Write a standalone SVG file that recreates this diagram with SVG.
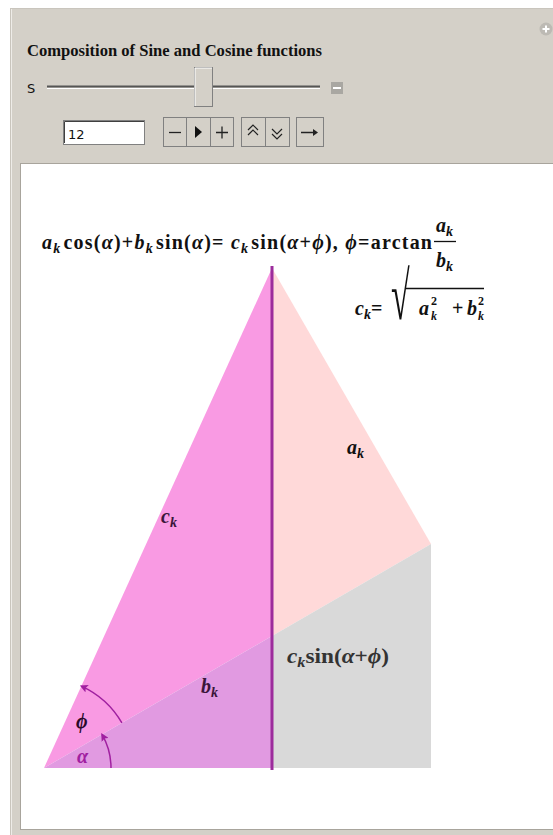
<svg xmlns="http://www.w3.org/2000/svg" width="553" height="835" viewBox="0 0 553 835">
<style>
.m{font-family:"Liberation Serif","Times New Roman",serif;font-weight:bold;font-size:20px;fill:#111}
.big{font-size:20px}
.i{font-style:italic}
.s{font-size:14px;font-style:italic}
.ui{font-family:"DejaVu Sans","Liberation Sans",sans-serif;font-size:13px;fill:#111}
.btn{fill:#D4D0C8;stroke:#808080;stroke-width:1}
.arc{fill:none;stroke:#A020A0;stroke-width:1.5}
</style>
<defs>
<marker id="ah" viewBox="0 0 10 10" refX="8" refY="5" markerWidth="8" markerHeight="8" markerUnits="userSpaceOnUse" orient="auto">
<path d="M0,0 L10,5 L0,10 L2,5 Z" fill="#A020A0"/>
</marker>
</defs>
<rect width="553" height="835" fill="#FFFFFF"/>
<g id="panel">
<rect x="10.5" y="8.5" width="550" height="835" fill="#D4D0C8" stroke="#C9C5BD"/>
<line x1="11.5" y1="9" x2="11.5" y2="835" stroke="#EEECE8"/>
<rect x="20.5" y="163.5" width="540" height="666" fill="#FFFFFF" stroke="#A8A49C"/>
<circle cx="546" cy="29" r="6.5" fill="#BDBAB4"/>
<path d="M542.5,29 H549.5 M546,25.5 V32.5" stroke="#FFFFFF" stroke-width="2"/>
<text x="27" y="56" class="m" textLength="295" lengthAdjust="spacingAndGlyphs" style="font-size:16.5px">Composition of Sine and Cosine functions</text>
<text x="27" y="93" class="ui" font-size="12">S</text>
</g>
<g id="slider">
<line x1="47" y1="86.5" x2="320" y2="86.5" stroke="#555555" stroke-width="2"/>
<line x1="47" y1="88.5" x2="320" y2="88.5" stroke="#FFFFFF" stroke-width="1"/>
<rect x="194.5" y="67.5" width="18" height="39" fill="#D4D0C8" stroke="#808080"/>
<path d="M195,106 V68 H212" fill="none" stroke="#FFFFFF"/>
<rect x="331" y="82" width="12" height="12" fill="#A9A7A2"/>
<line x1="333" y1="88" x2="341" y2="88" stroke="#FFFFFF" stroke-width="2"/>
</g>
<g id="input">
<rect x="63.5" y="120.5" width="81" height="24" fill="#FFFFFF" stroke="#808080"/>
<path d="M64.5,143 V121.5 H144" fill="none" stroke="#404040"/>
<text x="68" y="139" class="ui">12</text>
</g>
<g id="buttons">
<rect x="163.5" y="117.5" width="23" height="29" class="btn"/>
<rect x="186.5" y="117.5" width="24" height="29" class="btn"/>
<rect x="210.5" y="117.5" width="23" height="29" class="btn"/>
<rect x="241.5" y="117.5" width="24" height="29" class="btn"/>
<rect x="265.5" y="117.5" width="24" height="29" class="btn"/>
<rect x="296.5" y="117.5" width="27" height="29" class="btn"/>
<path d="M169,132.5 H181" stroke="#222" stroke-width="1.3"/>
<path d="M195,126 L202,132 L195,138 Z" fill="#111"/>
<path d="M216,132.5 H228 M222,126.5 V138.5" stroke="#222" stroke-width="1.3"/>
<path d="M248,130 L253,125 L258,130 M248,135 L253,130 L258,135" fill="none" stroke="#222" stroke-width="1.2"/>
<path d="M272,129 L277,134 L282,129 M272,134 L277,139 L282,134" fill="none" stroke="#222" stroke-width="1.2"/>
<path d="M301,132.5 H315" stroke="#222" stroke-width="1.5"/>
<path d="M313,129 L318,132.5 L313,136 Z" fill="#222"/>
</g>
<g id="triangles">
<polygon id="pink" points="272,268 431,544 272,636" fill="#FFD9D9"/>
<polygon id="gray" points="272,636 431,544 431,768 272,768" fill="#D9D9D9"/>
<polygon id="magenta" points="44,768 272,268 272,636" fill="#F99AE3"/>
<polygon id="mauve" points="44,768 272,636 272,768" fill="#E19AE1"/>
</g>
<g id="connectors">
<line x1="272" y1="266" x2="272" y2="770" stroke="#9C2C9C" stroke-width="3"/>
<path class="arc" d="M111,768 A67,67 0 0 0 102.0,734.4" marker-end="url(#ah)"/>
<path class="arc" d="M121.9,722.9 A90,90 0 0 0 81.3,686.1" marker-end="url(#ah)"/>
</g>
<g id="labels">
<text x="42" y="249" class="m big" textLength="390" lengthAdjust="spacing"><tspan class="i">a</tspan><tspan class="s" dy="4">k</tspan><tspan dy="-4" dx="2">cos(</tspan><tspan class="i">α</tspan><tspan>)+</tspan><tspan class="i">b</tspan><tspan class="s" dy="4">k</tspan><tspan dy="-4" dx="2">sin(</tspan><tspan class="i">α</tspan><tspan>)= </tspan><tspan class="i">c</tspan><tspan class="s" dy="4">k</tspan><tspan dy="-4" dx="2">sin(</tspan><tspan class="i">α</tspan><tspan>+</tspan><tspan class="i">ϕ</tspan><tspan>),  </tspan><tspan class="i">ϕ</tspan><tspan>=arctan</tspan></text>
<text x="436" y="232" class="m big"><tspan class="i">a</tspan><tspan class="s" dy="4">k</tspan></text>
<line x1="434" y1="241.5" x2="456" y2="241.5" stroke="#111" stroke-width="1.3"/>
<text x="436" y="267" class="m big"><tspan class="i">b</tspan><tspan class="s" dy="4">k</tspan></text>
<text x="355" y="315" class="m big"><tspan class="i">c</tspan><tspan class="s" dy="4">k</tspan><tspan dy="-4">=</tspan></text>
<text transform="translate(391,319) scale(1,2)" class="m" style="font-size:34px">√</text>
<line x1="406" y1="288.5" x2="484" y2="288.5" stroke="#111" stroke-width="1.5"/>
<text x="419" y="315" class="m big"><tspan class="i">a</tspan></text>
<text x="431" y="305" class="m" style="font-size:12px">2</text>
<text x="431" y="320" class="m" style="font-size:12px;font-style:italic">k</text>
<text x="452" y="315" class="m big">+</text>
<text x="467" y="315" class="m big"><tspan class="i">b</tspan></text>
<text x="478" y="305" class="m" style="font-size:12px">2</text>
<text x="478" y="320" class="m" style="font-size:12px;font-style:italic">k</text>
<text x="347" y="454" class="m"><tspan class="i">a</tspan><tspan class="s" dy="4">k</tspan></text>
<text x="161" y="523" class="m" style="fill:#3A163A"><tspan class="i">c</tspan><tspan class="s" dy="4">k</tspan></text>
<text x="201" y="693" class="m" style="fill:#3A163A"><tspan class="i">b</tspan><tspan class="s" dy="4">k</tspan></text>
<text x="76" y="728" class="m i" style="fill:#2A0A2A">ϕ</text>
<text x="77" y="763" class="m i" style="fill:#A020A0">α</text>
<text x="287" y="663" class="m" style="fill:#333" textLength="102" lengthAdjust="spacingAndGlyphs"><tspan class="i">c</tspan><tspan class="s" dy="4">k</tspan><tspan dy="-4">sin(</tspan><tspan class="i">α</tspan><tspan>+</tspan><tspan class="i">ϕ</tspan><tspan>)</tspan></text>
</g>
</svg>
